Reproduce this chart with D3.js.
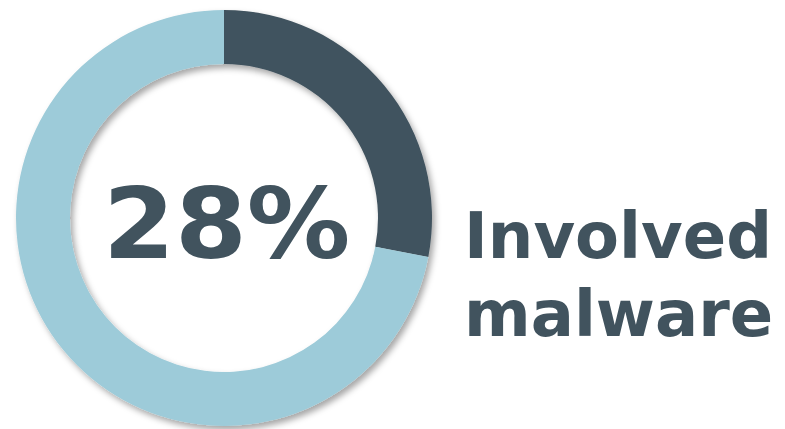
<!DOCTYPE html>
<html>
<head>
<meta charset="utf-8">
<script src="https://cdn.jsdelivr.net/npm/d3@7"></script>
<style>
  body { margin: 0; background: #fff; }
  svg text { font-family: "DejaVu Sans", Verdana, sans-serif; font-weight: bold; }
</style>
</head>
<body>
<div class="canvas"></div>
<script>
const categories = ["Involved malware", "Other"];
const shares = [28, 72];
const headline = "28%";
const labelLines = ["Involved", "malware"];

const dims = {width: 785, height: 429, outer: 208, inner: 154};
const cent = {x: 224, y: 218};

const svg = d3.select(".canvas")
  .append("svg")
  .attr("width", dims.width)
  .attr("height", dims.height);

// soft shadow under the ring
const defs = svg.append("defs");
defs.append("filter")
  .attr("id", "shadow")
  .attr("x", "-20%").attr("y", "-20%")
  .attr("width", "140%").attr("height", "140%")
  .append("feDropShadow")
  .attr("dx", 3).attr("dy", 4)
  .attr("stdDeviation", 3)
  .attr("flood-color", "#000")
  .attr("flood-opacity", 0.35);

const graph = svg.append("g")
  .attr("transform", `translate(${cent.x}, ${cent.y})`);

const colors = d3.scaleOrdinal().domain(categories).range(["#41535e", "#9dcbd9"]);

const pie = d3.pie().sort(null).value(d => d.value);
const arcPath = d3.arc().outerRadius(dims.outer).innerRadius(dims.inner);

const data = categories.map((name, i) => ({name, value: shares[i]}));

graph.append("g")
  .attr("filter", "url(#shadow)")
  .selectAll("path")
  .data(pie(data))
  .enter()
  .append("path")
  .attr("d", arcPath)
  .attr("fill", d => colors(d.data.name));

// big number in the hole, glyphs stretched a bit to match the wider original face
svg.append("text")
  .attr("transform", "translate(103, 258) scale(1.055, 1)")
  .attr("font-size", 98)
  .attr("fill", "#41535e")
  .text(headline);

svg.append("g")
  .selectAll("text")
  .data(labelLines)
  .enter()
  .append("text")
  .attr("transform", (d, i) => `translate(464, ${258 + i * 78})`)
  .attr("font-size", 64)
  .attr("fill", "#41535e")
  .text(d => d);
</script>
</body>
</html>
